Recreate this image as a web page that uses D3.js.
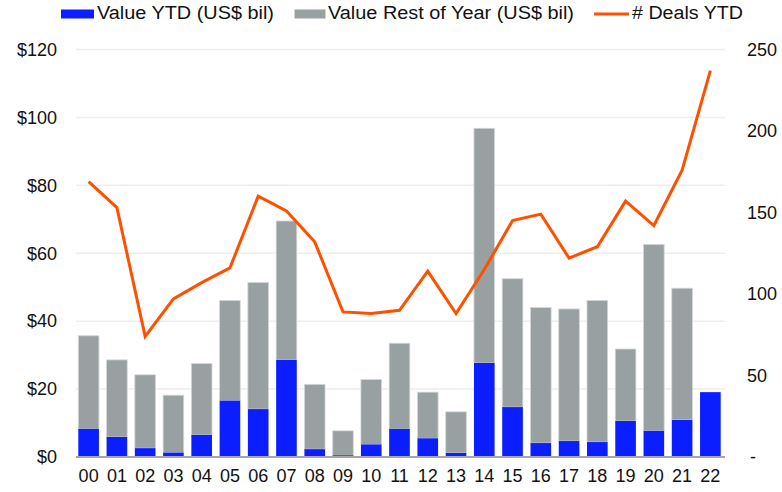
<!DOCTYPE html>
<html lang="en">
<head>
<meta charset="UTF-8">
<title>Deals YTD</title>
<script src="https://d3js.org/d3.v7.min.js"></script>
<style>
    body { margin: 0; background: #fff; }
    text { font-family: "Liberation Sans", Arial, sans-serif; fill: #111; }
</style>
</head>
<body>
<div id="chart"></div>
<script>
    // chart data
    const years = ['00','01','02','03','04','05','06','07','08','09','10','11',
                   '12','13','14','15','16','17','18','19','20','21','22'];
    const valueYTD = [8.3, 5.9, 2.6, 1.3, 6.5, 16.6, 14.1, 28.6, 2.3, 0.5, 3.7, 8.3,
                      5.5, 1.2, 27.7, 14.7, 4.1, 4.7, 4.4, 10.6, 7.7, 10.9, 19.1];
    const valueRest = [27.4, 22.7, 21.6, 16.9, 21.0, 29.5, 37.3, 40.9, 19.1, 7.2, 19.1, 25.2,
                       13.6, 12.1, 69.1, 37.8, 39.9, 38.9, 41.7, 21.2, 54.9, 38.8, 0];
    const dealsYTD = [169, 153, 74, 97, 107, 116, 160, 151, 132, 89, 88, 90,
                      114, 88, 115, 145, 149, 122, 129, 157, 142, 176, 237];
    const leftTicks = [0, 20, 40, 60, 80, 100, 120];
    const rightTicks = [0, 50, 100, 150, 200, 250];
    const legendLabels = ['Value YTD (US$ bil)', 'Value Rest of Year (US$ bil)', '# Deals YTD'];

    const W = 782, H = 492;
    const x0 = 74.5, x1 = 724.5, yBottom = 457, yTop = 49.5;
    const font = '"Liberation Sans", Arial, sans-serif';

    const svg = d3.select('#chart').append('svg')
        .attr('width', W).attr('height', H);

    const x = d3.scaleBand().domain(years).range([x0, x1]).paddingInner(0.27).paddingOuter(0.135);
    const yL = d3.scaleLinear().domain([0, 120]).range([yBottom, yTop]);
    const yR = d3.scaleLinear().domain([0, 250]).range([yBottom, yTop]);

    // gridlines
    svg.append('g').selectAll('line')
        .data(leftTicks.slice(1))
        .join('line')
        .attr('x1', 76).attr('x2', 725)
        .attr('y1', d => yL(d)).attr('y2', d => yL(d))
        .attr('stroke', '#eeeeee').attr('stroke-width', 1.5);

    // left axis labels
    const leftAxis = svg.append('g')
        .attr('transform', `translate(57,0)`)
        .call(d3.axisLeft(yL).tickValues(leftTicks).tickSize(0).tickPadding(0).tickFormat(d => '$' + d));
    leftAxis.select('.domain').remove();
    leftAxis.selectAll('text').attr('font-size', 18).attr('font-family', font).attr('fill', '#111');

    // right axis labels
    const rightAxis = svg.append('g')
        .attr('transform', `translate(747,0)`)
        .call(d3.axisRight(yR).tickValues(rightTicks).tickSize(0).tickPadding(0).tickFormat(d => d === 0 ? '-' : d));
    rightAxis.select('.domain').remove();
    rightAxis.selectAll('text').attr('font-size', 18).attr('font-family', font).attr('fill', '#111')
        .attr('dx', d => d === 0 ? 3 : 0);

    // stacked bars
    svg.append('g').selectAll('rect')
        .data(years)
        .join('rect')
        .attr('x', d => x(d))
        .attr('width', x.bandwidth())
        .attr('y', (d, i) => yL(valueYTD[i] + valueRest[i]))
        .attr('height', (d, i) => yL(valueYTD[i]) - yL(valueYTD[i] + valueRest[i]))
        .attr('fill', '#99a0a1')
        .attr('stroke', '#d4d7d8').attr('stroke-width', 0.8);

    svg.append('g').selectAll('rect')
        .data(years)
        .join('rect')
        .attr('x', d => x(d))
        .attr('width', x.bandwidth())
        .attr('y', (d, i) => yL(valueYTD[i]))
        .attr('height', (d, i) => yBottom - yL(valueYTD[i]))
        .attr('fill', '#0a1eff');

    // x axis
    const xAxis = svg.append('g')
        .attr('transform', `translate(0,${yBottom})`)
        .call(d3.axisBottom(x).tickSize(0).tickPadding(12));
    xAxis.select('.domain').remove();
    xAxis.selectAll('text').attr('font-size', 18).attr('font-family', font).attr('fill', '#111');
    svg.append('line')
        .attr('x1', 76).attr('x2', 725).attr('y1', yBottom).attr('y2', yBottom)
        .attr('stroke', '#a6a6a6').attr('stroke-width', 2);

    // deals line
    const line = d3.line()
        .x((d, i) => x(years[i]) + x.bandwidth() / 2)
        .y(d => yR(d));
    svg.append('path')
        .datum(dealsYTD)
        .attr('d', line)
        .attr('fill', 'none')
        .attr('stroke', '#ff5000')
        .attr('stroke-width', 3)
        .attr('stroke-linejoin', 'miter');

    // legend
    const legend = svg.append('g');
    legend.append('rect').attr('x', 61).attr('y', 9.5).attr('width', 33).attr('height', 9).attr('fill', '#0a1eff');
    legend.append('text').attr('x', 97).attr('y', 19).attr('font-size', 18)
        .attr('textLength', 177).attr('lengthAdjust', 'spacingAndGlyphs').text(legendLabels[0]);
    legend.append('rect').attr('x', 294.5).attr('y', 9.5).attr('width', 31).attr('height', 9).attr('fill', '#99a0a1');
    legend.append('text').attr('x', 328).attr('y', 19).attr('font-size', 18)
        .attr('textLength', 246).attr('lengthAdjust', 'spacingAndGlyphs').text(legendLabels[1]);
    legend.append('line').attr('x1', 594).attr('x2', 629).attr('y1', 14).attr('y2', 14)
        .attr('stroke', '#ff5000').attr('stroke-width', 3);
    legend.append('text').attr('x', 632).attr('y', 19).attr('font-size', 18)
        .attr('textLength', 111).attr('lengthAdjust', 'spacingAndGlyphs').text(legendLabels[2]);
</script>
</body>
</html>
